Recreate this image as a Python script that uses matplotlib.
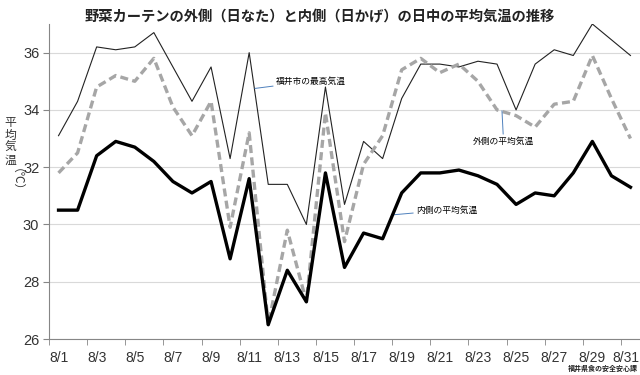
import numpy as np
import matplotlib
matplotlib.use('Agg')
import matplotlib.pyplot as plt
import matplotlib.transforms as mtransforms
from matplotlib.ticker import FixedLocator

plt.rcParams['font.family'] = ['Liberation Sans', 'Noto Sans CJK JP']

# 8/1 - 8/31
days = [f'8/{d}' for d in range(1, 32)]

# Fukui city daily max temperature
max_temp = [33.1, 34.3, 36.2, 36.1, 36.2, 36.7, 35.5, 34.3, 35.5, 32.3,
            36.0, 31.4, 31.4, 30.0, 34.8, 30.7, 32.9, 32.3, 34.4, 35.6,
            35.6, 35.5, 35.7, 35.6, 34.0, 35.6, 36.1, 35.9, 37.0, 36.45,
            35.9]
# outside (sunny side) average
outer_avg = [31.8, 32.5, 34.8, 35.2, 35.0, 35.8, 34.1, 33.1, 34.3, 29.9,
             33.2, 26.5, 29.8, 27.3, 33.9, 29.4, 32.1, 33.1, 35.4, 35.8,
             35.3, 35.6, 35.0, 34.0, 33.8, 33.4, 34.2, 34.3, 35.9, 34.4,
             33.0]
# inside (shade side) average
inner_avg = [30.5, 30.5, 32.4, 32.9, 32.7, 32.2, 31.5, 31.1, 31.5, 28.8,
             31.6, 26.5, 28.4, 27.3, 31.8, 28.5, 29.7, 29.5, 31.1, 31.8,
             31.8, 31.9, 31.7, 31.4, 30.7, 31.1, 31.0, 31.8, 32.9, 31.7,
             31.3]

x = np.arange(len(days))

fig = plt.figure(figsize=(6.4, 3.75), dpi=100)
ax = fig.add_axes([49 / 640, 36 / 375, 591 / 640, 315 / 375])

# Lines
ax.plot(x, max_temp, color='#222222', lw=0.8, zorder=3)
ax.plot(x, outer_avg, color='#a6a6a6', lw=2.4, dashes=(2.4, 1.3), zorder=3)
ax.plot(x, inner_avg, color='black', lw=2.4, zorder=4)

ax.set_xlim(-0.5, len(days) - 0.5)
ax.set_ylim(26, 37)
ax.set_yticks(np.arange(26, 37, 2))
ax.yaxis.grid(True, color='#d9d9d9', lw=0.8)
ax.set_axisbelow(True)

# category labels every 2 days, tick marks between categories
ax.set_xticks(x[::2])
ax.set_xticklabels(days[::2])
ax.xaxis.set_minor_locator(FixedLocator(np.arange(-0.5, len(days) - 1, 2)))
ax.tick_params(axis='x', which='major', length=0, pad=9, labelsize=10, colors='#333333')
ax.tick_params(axis='x', which='minor', length=4, color='#868686')
ax.tick_params(axis='y', length=4, color='#868686', labelsize=10.5, colors='#333333', pad=3)

# keep the last label inside the picture
last = ax.get_xticklabels()[-1]
last.set_transform(last.get_transform() + mtransforms.ScaledTranslation(-5 / 100, 0, fig.dpi_scale_trans))

for s in ['top', 'right']:
    ax.spines[s].set_visible(False)
for s in ['left', 'bottom']:
    ax.spines[s].set_color('#868686')
    ax.spines[s].set_linewidth(0.8)

# Title
fig.text(0.5, 1 - 17 / 375, '野菜カーテンの外側（日なた）と内側（日かげ）の日中の平均気温の推移',
         ha='center', va='center', fontsize=10.3, fontweight='bold', color='#222222')

# Y label (stacked)
fig.text(10 / 640, 1 - 142 / 375, '平\n均\n気\n温', ha='center', va='center',
         fontsize=8.5, linespacing=1.05, color='#333333')
fig.text(10 / 640, 1 - 186 / 375, '（℃）', ha='center', va='center',
         fontsize=8.5, rotation=-90, color='#333333')

# Series labels with leader lines
lead = dict(arrowstyle='-', color='#4f81bd', lw=0.7, shrinkA=0, shrinkB=0)
ax.annotate('福井市の最高気温', xy=(10.3, 34.75), xytext=(11.4, 35.0),
            fontsize=6.3, va='center', ha='left', arrowprops=lead)
ax.annotate('外側の平均気温', xy=(23.26, 33.97), xytext=(23.33, 32.9),
            fontsize=6.3, va='center', ha='center',
            arrowprops=dict(lead, relpos=(0.5, 1.0)))
ax.annotate('内側の平均気温', xy=(17.6, 30.34), xytext=(18.75, 30.5),
            fontsize=6.3, va='center', ha='left', arrowprops=lead)

# Source
fig.text(638 / 640, 1 - 369 / 375, '福井県食の安全安心課', ha='right', va='center',
         fontsize=5, fontweight='bold', color='#222222')

fig.savefig('out.png', dpi=100)
